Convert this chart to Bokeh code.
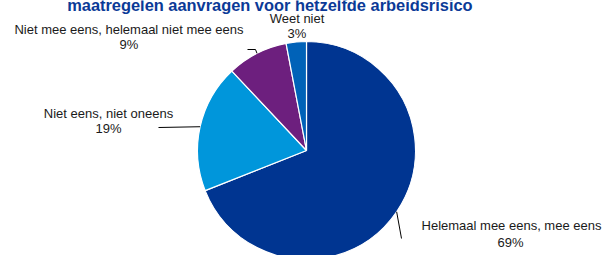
import math
from bokeh.plotting import figure
from bokeh.models import Range1d
from bokeh.core.properties import value
from bokeh.embed import file_html
from bokeh.resources import INLINE

# ---- data ----
categories = ["Helemaal mee eens, mee eens", "Niet eens, niet oneens",
              "Niet mee eens, helemaal niet mee eens", "Weet niet"]
shares = [69, 19, 9, 3]
pct_labels = ["69%", "19%", "9%", "3%"]
colors = ["#003591", "#0096DB", "#6D1F7E", "#0062B8"]
title_text = "maatregelen aanvragen voor hetzelfde arbeidsrisico"

W, H = 608, 255
FONT = value("Liberation Sans")

def px(x):
    return x

def py(y):
    return H - y

p = figure(width=W, height=H, x_range=Range1d(0, W), y_range=Range1d(0, H),
           output_backend="svg", toolbar_location=None, min_border=0,
           x_axis_type=None, y_axis_type=None)
p.grid.visible = False
p.outline_line_color = None
p.background_fill_color = "white"
p.border_fill_color = "white"

cx, cy, r = px(306), py(150), 109
total = float(sum(shares))

starts, ends, mids = [], [], []
cum = 0.0
for s in shares:
    a0 = 90 - 360 * cum / total
    a1 = 90 - 360 * (cum + s) / total
    starts.append(a0)
    ends.append(a1)
    mids.append(90 - 360 * (cum + s / 2) / total)
    cum += s

p.wedge(x=[cx] * len(shares), y=[cy] * len(shares), radius=r,
        start_angle=starts, end_angle=ends, direction="clock",
        start_angle_units="deg", end_angle_units="deg",
        fill_color=colors, line_color="white", line_width=1.2)

def edge(i):
    m = math.radians(mids[i])
    return cx + r * math.cos(m), cy + r * math.sin(m)

# leader lines
e0 = edge(0)
p.line([e0[0], px(401)], [e0[1], py(238)], line_color="black", line_width=1)
e1 = edge(1)
p.line([e1[0], px(158)], [e1[1], py(127)], line_color="black", line_width=1)
e2 = edge(2)
p.line([e2[0], px(255), px(247)], [e2[1], py(49), py(49)], line_color="black", line_width=1)

# labels (page coordinates of centres)
label_pos = [((511, 225), (510, 241.5)),
             ((108, 112.5), (108, 128)),
             ((128.5, 29), (128.5, 44.3)),
             ((296.5, 18.3), (296.5, 33.3))]
for i, ((x1, y1), (x2, y2)) in enumerate(label_pos):
    p.text(x=[px(x1)], y=[py(y1)], text=[categories[i]], text_font=FONT,
           text_font_size="13px", text_align="center", text_baseline="middle",
           text_color="#1a1a1a")
    p.text(x=[px(x2)], y=[py(y2)], text=[pct_labels[i]], text_font=FONT,
           text_font_size="13px", text_align="center", text_baseline="middle",
           text_color="#1a1a1a")

# title (cut off at the top, as in the reference)
p.text(x=[px(66.7)], y=[py(4)], text=[title_text], text_font=FONT,
       text_font_size="16.4px", text_font_style="bold", text_align="left",
       text_baseline="alphabetic", text_color="#0B3A97")

open("out.html", "w").write(file_html(p, INLINE))
